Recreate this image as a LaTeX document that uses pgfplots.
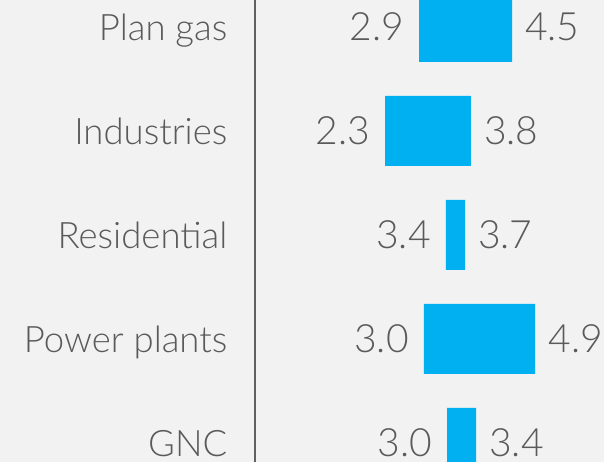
\documentclass[border=0pt]{standalone}
\usepackage{fontspec}
\setmainfont{Lato Light}
\usepackage{pgfplots}
\usepackage{pgfplotstable}
\pgfplotsset{compat=1.18}
\definecolor{bg}{HTML}{F2F2F2}
\definecolor{barc}{HTML}{00B0F0}
\definecolor{txt}{HTML}{5A5A5A}
\definecolor{axc}{HTML}{606060}
\pgfplotstableread{
y start len endv lo hi
4 2.90 1.60 4.50 2.9 4.5
3 2.31 1.48 3.79 2.3 3.8
2 3.36 0.33 3.69 3.4 3.7
1 2.98 1.92 4.90 3.0 4.9
0 3.38 0.50 3.88 3.0 3.4
}\ranges
\pgfplotsset{common/.style={
 at={(254.5pt,0pt)}, anchor=south west,
 scale only axis, width=349.5pt, height=462pt,
 xmin=0.06, xmax=6.086, ymin=-0.1827, ymax=4.2596}}
\begin{document}
\begin{tikzpicture}
\useasboundingbox (0,0) rectangle (604pt,462pt);
\fill[bg] (0,0) rectangle (604pt,462pt);
\begin{axis}[common,
 xbar stacked, bar width=70pt,
 axis x line=none, axis y line=left,
 separate axis lines,
 y axis line style={-, draw=axc, line width=2pt},
 ytick={0,1,2,3,4}, yticklabels={GNC,Power plants,Residential,Industries,Plan gas},
 major tick length=0pt,
 yticklabel style={font=\fontsize{36.5}{40}\selectfont, text=txt, anchor=east, inner sep=0pt, xshift=-27pt, text depth=0pt},
 clip=true,
]
\addplot[draw=none, fill=none] table[x=start, y=y] {\ranges};
\addplot[fill=barc, draw=none] table[x=len, y=y] {\ranges};
\end{axis}
\begin{axis}[common, hide axis, clip=false,
 nodes near coords, point meta=explicit symbolic,
 every node near coord/.append style={font=\fontsize{39}{44}\selectfont, text=txt, inner sep=0pt},
]
\addplot[draw=none, mark=none, nodes near coords style={anchor=east, xshift=-15pt}] table[x=start, y=y, meta=lo] {\ranges};
\addplot[draw=none, mark=none, nodes near coords style={anchor=west, xshift=13pt}] table[x=endv, y=y, meta=hi] {\ranges};
\end{axis}
\end{tikzpicture}
\end{document}
